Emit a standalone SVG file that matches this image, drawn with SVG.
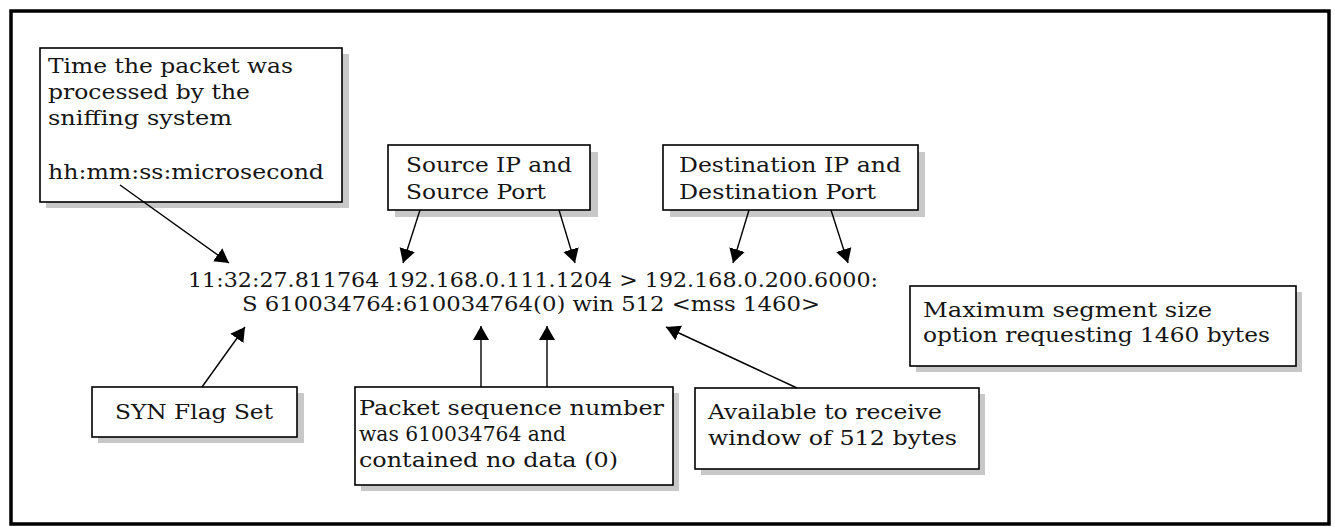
<svg xmlns="http://www.w3.org/2000/svg" width="1335" height="527" viewBox="0 0 1335 527">
<style>
  .box { fill: #ffffff; stroke: #000000; stroke-width: 1.6; }
  .shadow { fill: #c8c8c8; stroke: none; }
  .t { font-family: "DejaVu Serif", "Liberation Serif", serif; font-size: 20.5px; fill: #151515; }
  .conn { stroke: #000000; stroke-width: 1.4; fill: none; marker-end: url(#arrow); }
</style>
<defs>
  <marker id="arrow" markerUnits="userSpaceOnUse" markerWidth="16" markerHeight="18" viewBox="0 0 16 18" refX="14" refY="9" orient="auto">
    <path d="M0,1 L14,9 L0,17 Z" fill="#000000"/>
  </marker>
</defs>
<rect x="0" y="0" width="1335" height="527" fill="#ffffff"/>
<rect id="frame" x="11" y="11" width="1318" height="513" fill="none" stroke="#000000" stroke-width="3.5"/>

<g id="node-time">
  <rect class="shadow" x="46" y="54" width="303" height="154"/>
  <rect class="box" x="40" y="48" width="302" height="154"/>
  <text class="t" x="48" y="73" textLength="245" lengthAdjust="spacingAndGlyphs">Time the packet was</text>
  <text class="t" x="48" y="99" textLength="202" lengthAdjust="spacingAndGlyphs">processed by the</text>
  <text class="t" x="48" y="125" textLength="184" lengthAdjust="spacingAndGlyphs">sniffing system</text>
  <text class="t" x="48" y="179" textLength="276" lengthAdjust="spacingAndGlyphs">hh:mm:ss:microsecond</text>
</g>

<g id="node-source">
  <rect class="shadow" x="395" y="152" width="203" height="65"/>
  <rect class="box" x="388" y="145" width="202" height="65"/>
  <text class="t" x="406" y="172" textLength="166" lengthAdjust="spacingAndGlyphs">Source IP and</text>
  <text class="t" x="406" y="199" textLength="140" lengthAdjust="spacingAndGlyphs">Source Port</text>
</g>

<g id="node-dest">
  <rect class="shadow" x="670" y="152" width="255" height="65"/>
  <rect class="box" x="663" y="145" width="255" height="65"/>
  <text class="t" x="679" y="172" textLength="222" lengthAdjust="spacingAndGlyphs">Destination IP and</text>
  <text class="t" x="679" y="199" textLength="197" lengthAdjust="spacingAndGlyphs">Destination Port</text>
</g>

<g id="node-packet-line">
  <text class="t" x="188" y="287" textLength="690" lengthAdjust="spacingAndGlyphs">11:32:27.811764 192.168.0.111.1204 &gt; 192.168.0.200.6000:</text>
  <text class="t" x="242" y="311" textLength="578" lengthAdjust="spacingAndGlyphs">S 610034764:610034764(0) win 512 &lt;mss 1460&gt;</text>
</g>

<g id="node-mss">
  <rect class="shadow" x="916" y="292" width="386" height="80"/>
  <rect class="box" x="910" y="286" width="386" height="80"/>
  <text class="t" x="923" y="317" textLength="289" lengthAdjust="spacingAndGlyphs">Maximum segment size</text>
  <text class="t" x="923" y="342" textLength="347" lengthAdjust="spacingAndGlyphs">option requesting 1460 bytes</text>
</g>

<g id="node-syn">
  <rect class="shadow" x="98" y="393" width="206" height="50"/>
  <rect class="box" x="92" y="387" width="205" height="50"/>
  <text class="t" x="115" y="419" textLength="158" lengthAdjust="spacingAndGlyphs">SYN Flag Set</text>
</g>

<g id="node-seq">
  <rect class="shadow" x="361" y="393" width="318" height="98"/>
  <rect class="box" x="355" y="387" width="318" height="98"/>
  <text class="t" x="359" y="415" textLength="305" lengthAdjust="spacingAndGlyphs">Packet sequence number</text>
  <text class="t" x="359" y="441" textLength="207" lengthAdjust="spacingAndGlyphs">was 610034764 and</text>
  <text class="t" x="359" y="467" textLength="259" lengthAdjust="spacingAndGlyphs">contained no data (0)</text>
</g>

<g id="node-window">
  <rect class="shadow" x="701" y="394" width="284" height="81"/>
  <rect class="box" x="695" y="388" width="284" height="81"/>
  <text class="t" x="708" y="419" textLength="234" lengthAdjust="spacingAndGlyphs">Available to receive</text>
  <text class="t" x="708" y="445" textLength="249" lengthAdjust="spacingAndGlyphs">window of 512 bytes</text>
</g>

<g id="connectors">
  <line class="conn" x1="120" y1="185" x2="229" y2="263"/>
  <line class="conn" x1="420" y1="210" x2="403" y2="263"/>
  <line class="conn" x1="559" y1="210" x2="575" y2="263"/>
  <line class="conn" x1="749" y1="210" x2="733" y2="263"/>
  <line class="conn" x1="831" y1="210" x2="848" y2="263"/>
  <line class="conn" x1="202" y1="387" x2="245" y2="327"/>
  <line class="conn" x1="481" y1="387" x2="481" y2="326"/>
  <line class="conn" x1="547" y1="387" x2="547" y2="326"/>
  <line class="conn" x1="797" y1="388" x2="666" y2="327"/>
</g>
</svg>
